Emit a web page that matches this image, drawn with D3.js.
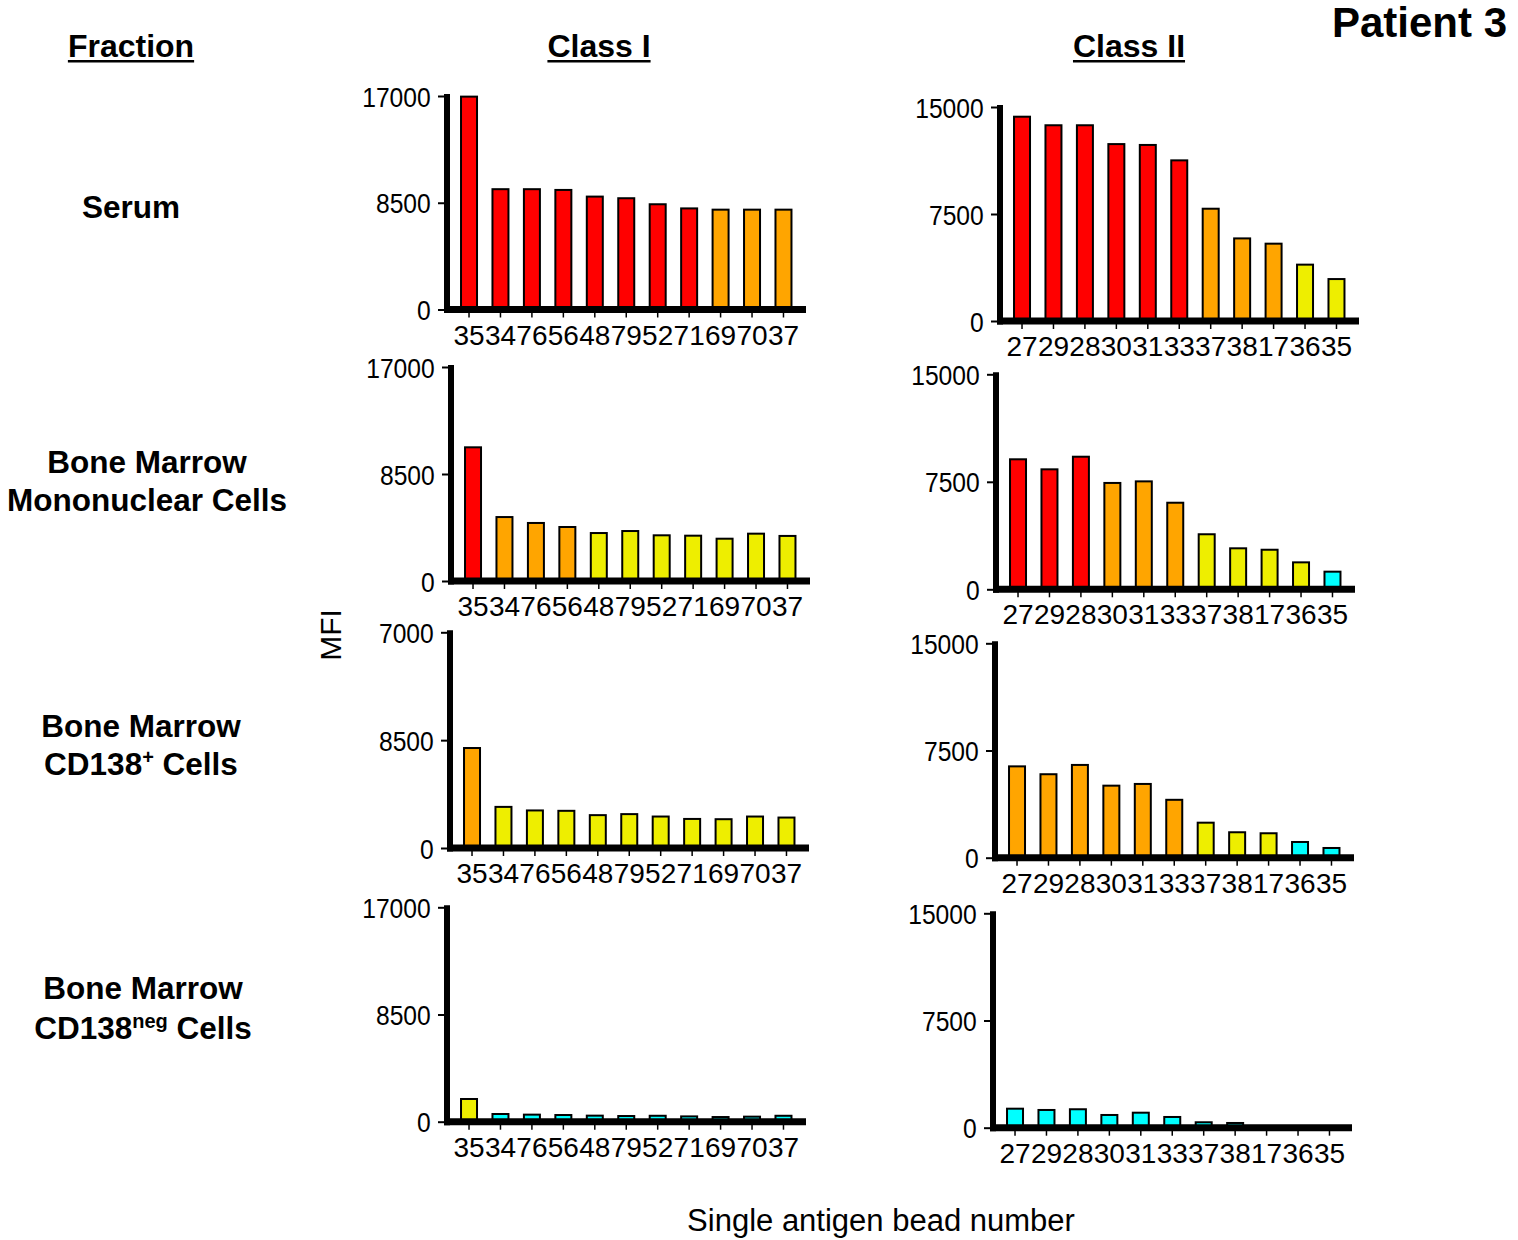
<!DOCTYPE html>
<html>
<head>
<meta charset="utf-8">
<script src="https://cdn.jsdelivr.net/npm/d3@7"></script>
<style>
  body { margin: 0; background: #fff; }
  svg { display: block; }
  text { font-family: "Liberation Sans", Arial, Helvetica, sans-serif; fill: #000; }
</style>
</head>
<body>
<svg id="chart" width="1518" height="1240"></svg>
<script>
// Single antigen bead numbers (x categories)
const classIBeads  = ["35", "34", "76", "56", "48", "79", "52", "71", "69", "70", "37"];
const classIIBeads = ["27", "29", "28", "30", "31", "33", "37", "38", "17", "36", "35"];

// MFI per bead, one array per fraction and HLA class
const serumClassI     = [16950, 9580, 9580, 9520, 8990, 8860, 8380, 8050, 7950, 7950, 7950];
const serumClassII    = [14320, 13720, 13720, 12400, 12340, 11260, 7870, 5790, 5420, 3950, 2940];
const bmmcClassI      = [10620, 5080, 4610, 4290, 3810, 3970, 3630, 3600, 3360, 3760, 3580];
const bmmcClassII     = [9070, 8370, 9250, 7420, 7530, 6040, 3840, 2860, 2760, 1880, 1230];
const cd138posClassI  = [7880, 3240, 2960, 2930, 2590, 2670, 2480, 2290, 2270, 2480, 2400];
const cd138posClassII = [6390, 5840, 6490, 5040, 5160, 4050, 2450, 1780, 1710, 1100, 680];
const cd138negClassI  = [1800, 610, 560, 530, 480, 450, 470, 420, 370, 400, 470];
const cd138negClassII = [1330, 1240, 1290, 890, 1050, 750, 380, 330, 90, 80, 80];

// Y axis ticks
const classITickValues  = [0, 8500, 17000];
const classIITickValues = [0, 7500, 15000];
const classITickLabels  = ["0", "8500", "17000"];
const classIITickLabels = ["0", "7500", "15000"];
const cd138posClassITickLabels = ["0", "8500", "7000"];

// MFI strength bands used for bar colour
const strengthColor = d3.scaleThreshold()
  .domain([1500, 4000, 8000])
  .range(["#00ffff", "#eeee00", "#ffa500", "#ff0000"]);

const svg = d3.select("#chart");

// Panel placement: axis x position, top of value axis, zero line
const panels = [
  { beads: classIBeads,  values: serumClassI,     max: 17000, ticks: classITickValues,  labels: classITickLabels,  x: 447,  top: 96,    zero: 309.5 },
  { beads: classIIBeads, values: serumClassII,    max: 15000, ticks: classIITickValues, labels: classIITickLabels, x: 1000, top: 107,   zero: 321 },
  { beads: classIBeads,  values: bmmcClassI,      max: 17000, ticks: classITickValues,  labels: classITickLabels,  x: 451,  top: 367,   zero: 581 },
  { beads: classIIBeads, values: bmmcClassII,     max: 15000, ticks: classIITickValues, labels: classIITickLabels, x: 996,  top: 374.3, zero: 589.3 },
  { beads: classIBeads,  values: cd138posClassI,  max: 17000, ticks: classITickValues,  labels: cd138posClassITickLabels, x: 450, top: 632.3, zero: 848 },
  { beads: classIIBeads, values: cd138posClassII, max: 15000, ticks: classIITickValues, labels: classIITickLabels, x: 995,  top: 643.3, zero: 857.7 },
  { beads: classIBeads,  values: cd138negClassI,  max: 17000, ticks: classITickValues,  labels: classITickLabels,  x: 447,  top: 907.3, zero: 1121.7 },
  { beads: classIIBeads, values: cd138negClassII, max: 15000, ticks: classIITickValues, labels: classIITickLabels, x: 993,  top: 913.3, zero: 1127.7 }
];

const axisLength = 359;
const barWidth = 16;

function drawPanel(p) {
  const g = svg.append("g").attr("transform", `translate(${p.x},${p.zero})`);
  const h = p.zero - p.top;
  const y = d3.scaleLinear().domain([0, p.max]).range([0, -h]);
  const x = d3.scaleBand().domain(p.beads).range([6.3, 352.2]).padding(0);
  const rows = p.beads.map((b, i) => ({ bead: b, value: p.values[i] }));

  // bars
  g.selectAll("rect.bar").data(rows).join("rect")
    .attr("class", "bar")
    .attr("x", d => x(d.bead) + x.bandwidth() / 2 - barWidth / 2)
    .attr("y", d => y(d.value))
    .attr("width", barWidth)
    .attr("height", d => -y(d.value))
    .attr("fill", d => strengthColor(d.value))
    .attr("stroke", "#000")
    .attr("stroke-width", 2);

  // value axis ticks and labels
  const yAxis = g.append("g").call(
    d3.axisLeft(y).tickValues(p.ticks)
      .tickFormat((d, i) => p.labels[i])
      .tickSize(9)
  );
  yAxis.select(".domain").remove();
  yAxis.selectAll(".tick line").attr("stroke", "#000").attr("stroke-width", 2);
  yAxis.selectAll(".tick text")
    .attr("x", -18.5)
    .attr("dy", "0.36em")
    .attr("font-size", 28)
    .attr("transform", "scale(0.88,1)")
    .attr("fill", "#000");

  // bead axis ticks and labels
  const xAxis = g.append("g").call(d3.axisBottom(x).tickSize(8));
  xAxis.select(".domain").remove();
  xAxis.selectAll(".tick line").attr("stroke", "#000").attr("stroke-width", 1.5);
  xAxis.selectAll(".tick text")
    .attr("y", 35)
    .attr("dy", 0)
    .attr("font-size", 28)
    .attr("fill", "#000");

  // heavy axis lines
  g.append("line")
    .attr("x1", 0).attr("x2", 0)
    .attr("y1", y(p.max) - 2).attr("y2", 3.5)
    .attr("stroke", "#000").attr("stroke-width", 6);
  g.append("line")
    .attr("x1", -3).attr("x2", axisLength)
    .attr("y1", 0).attr("y2", 0)
    .attr("stroke", "#000").attr("stroke-width", 7);
}

panels.forEach(drawPanel);

// Column headers (bold, underlined)
function underlinedHeader(text, cx, baseline) {
  const t = svg.append("text")
    .attr("x", cx).attr("y", baseline)
    .attr("text-anchor", "middle")
    .attr("font-size", 32).attr("font-weight", "bold")
    .text(text);
  const w = t.node().getComputedTextLength();
  svg.append("line")
    .attr("x1", cx - w / 2).attr("x2", cx + w / 2)
    .attr("y1", baseline + 4.8).attr("y2", baseline + 4.8)
    .attr("stroke", "#000").attr("stroke-width", 2.6);
}
underlinedHeader("Fraction", 131, 56.5);
underlinedHeader("Class I", 599, 56.5);
underlinedHeader("Class II", 1129, 56.5);

svg.append("text")
  .attr("x", 1507).attr("y", 37)
  .attr("text-anchor", "end")
  .attr("font-size", 42).attr("font-weight", "bold")
  .text("Patient 3");

// Fraction row labels
function rowLabel(lines, cx) {
  lines.forEach(line => {
    const t = svg.append("text")
      .attr("x", cx).attr("y", line.y)
      .attr("text-anchor", "middle")
      .attr("font-size", 31.5).attr("font-weight", "bold");
    if (line.sup) {
      t.append("tspan").text(line.pre);
      t.append("tspan").attr("font-size", 20).attr("dy", -11).text(line.sup);
      t.append("tspan").attr("dy", 11).text(line.post);
    } else {
      t.text(line.text);
    }
  });
}
rowLabel([{ text: "Serum", y: 218 }], 131);
rowLabel([{ text: "Bone Marrow", y: 473 }, { text: "Mononuclear Cells", y: 511 }], 147);
rowLabel([{ text: "Bone Marrow", y: 737 }, { pre: "CD138", sup: "+", post: " Cells", y: 775 }], 141);
rowLabel([{ text: "Bone Marrow", y: 999 }, { pre: "CD138", sup: "neg", post: " Cells", y: 1039 }], 143);

// Shared axis titles
svg.append("text")
  .attr("transform", "translate(341,635) rotate(-90)")
  .attr("text-anchor", "middle")
  .attr("font-size", 30)
  .text("MFI");

svg.append("text")
  .attr("x", 881).attr("y", 1231)
  .attr("text-anchor", "middle")
  .attr("font-size", 31)
  .text("Single antigen bead number");
</script>
</body>
</html>
